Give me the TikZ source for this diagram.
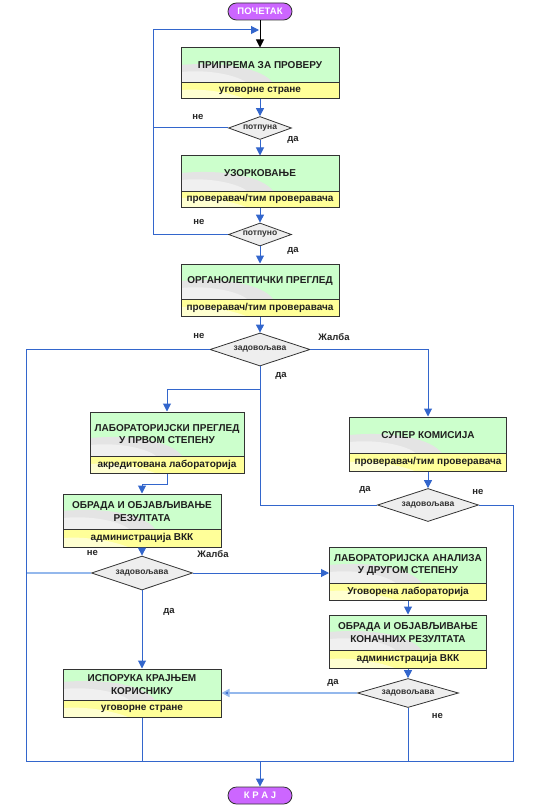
\documentclass[tikz,border=0pt]{standalone}
\usepackage{fontspec}
\setmainfont{Liberation Sans}
\usetikzlibrary{arrows.meta,shapes.geometric,calc}
\definecolor{lblue}{HTML}{3366CC}
\definecolor{paleblue}{HTML}{94B8EC}
\definecolor{boxgreen}{HTML}{CCFFCC}
\definecolor{boxyellow}{HTML}{FFFF99}
\definecolor{swgray}{HTML}{E4E4E4}
\definecolor{dgray}{HTML}{EEEEEE}
\definecolor{pill}{HTML}{CC66FF}
\definecolor{edgec}{HTML}{333333}
\tikzset{
  greenpart/.style={draw=edgec, line width=1pt, fill=boxgreen, inner sep=1pt, align=center,
    font=\fontsize{10}{12.5}\selectfont\bfseries, text=black!88,
    path picture={
      \coordinate (sw) at (path picture bounding box.south west);
      \fill[swgray] ([yshift=18pt]sw) .. controls ([xshift=45pt,yshift=22pt]sw) and ([xshift=82pt,yshift=14pt]sw) .. ([xshift=92pt]sw) -- (sw) -- cycle;
      \fill[white!45!swgray] ([yshift=11pt]sw) .. controls ([xshift=30pt,yshift=14pt]sw) and ([xshift=58pt,yshift=7pt]sw) .. ([xshift=66pt]sw) -- (sw) -- cycle;
    }},
  yellowpart/.style={draw=edgec, line width=1pt, fill=boxyellow, inner sep=1pt,
    font=\fontsize{10}{11}\selectfont\bfseries, text=black!88,
    path picture={
      \coordinate (sw) at (path picture bounding box.south west);
      \fill[white!55!boxyellow] ([yshift=9pt]sw) .. controls ([xshift=30pt,yshift=11pt]sw) and ([xshift=55pt,yshift=4pt]sw) .. ([xshift=65pt]sw) -- (sw) -- cycle;
    }},
  decision/.style={diamond, shape aspect=3, inner sep=0pt, draw=edgec, line width=0.8pt, fill=dgray,
    font=\fontsize{8.5}{10}\selectfont\bfseries, text=black!80},
  terminal/.style={draw=edgec, line width=0.8pt, fill=pill, rounded corners=8.5pt, minimum width=64pt,
    minimum height=17pt, inner sep=0pt, font=\fontsize{9.5}{11}\selectfont\bfseries, text=white},
  lab/.style={font=\fontsize{9.5}{11}\selectfont\bfseries, text=black!85, inner sep=0pt},
  arr/.style={draw=lblue, line width=1pt, -{Triangle[width=8pt,length=8pt]}},
  blk/.style={draw=black, line width=1pt, -{Triangle[width=8pt,length=8pt]}},
  ln/.style={draw=lblue, line width=0.8pt},
  paleln/.style={draw=paleblue, line width=1.6pt},
  palearr/.style={draw=paleblue, line width=1.6pt, -{Triangle[width=8pt,length=8pt,fill=lblue]}}
}
\newcommand\flowbox[8]{%
  \node[greenpart, minimum width=#6pt, minimum height={(#4-#3)*1pt}] (#1) at (#2,{(#3+#4)/2}) {#7};
  \node[yellowpart, minimum width=#6pt, minimum height={(#5-#4)*1pt}] (#1s) at (#2,{(#4+#5)/2}) {#8};
}
\begin{document}
\begin{tikzpicture}[x=1pt,y=-1pt]
\useasboundingbox[fill=white] (0,0) rectangle (541,805);

% terminals
\node[terminal] (start) at (260,11.5) {ПОЧЕТАК};
\node[terminal] (end) at (260,795.5) {К Р А Ј};

% boxes
\flowbox{b1}{260}{48}{83}{99}{158}{ПРИПРЕМА ЗА ПРОВЕРУ}{уговорне стране}
\flowbox{b2}{260}{156}{191}{207}{158}{УЗОРКОВАЊЕ}{проверавач/тим проверавача}
\flowbox{b3}{260}{264}{299}{316}{158}{ОРГАНОЛЕПТИЧКИ ПРЕГЛЕД}{проверавач/тим проверавача}
\flowbox{b4}{167}{412}{456}{473}{154}{ЛАБОРАТОРИЈСКИ ПРЕГЛЕД\\У ПРВОМ СТЕПЕНУ}{акредитована лабораторија}
\flowbox{b5}{142}{494}{529}{547}{158}{ОБРАДА И ОБЈАВЉИВАЊЕ\\РЕЗУЛТАТА}{администрација ВКК}
\flowbox{b6}{428}{417}{453}{471}{157}{СУПЕР КОМИСИЈА}{проверавач/тим проверавача}
\flowbox{b7}{408}{547}{583}{600}{157}{ЛАБОРАТОРИЈСКА АНАЛИЗА\\У ДРУГОМ СТЕПЕНУ}{Уговорена лабораторија}
\flowbox{b8}{408}{615}{650}{668}{157}{ОБРАДА И ОБЈАВЉИВАЊЕ\\КОНАЧНИХ РЕЗУЛТАТА}{администрација ВКК}
\flowbox{b9}{142}{669}{700}{717}{158}{ИСПОРУКА КРАЈЊЕМ\\КОРИСНИКУ}{уговорне стране}

% decisions
\node[decision, minimum width=63pt, minimum height=23pt] (d1) at (260,128) {потпуна};
\node[decision, minimum width=63pt, minimum height=23pt] (d2) at (260,234.5) {потпуно};
\node[decision, minimum width=100pt, minimum height=33pt] (d3) at (260,349.5) {задовољава};
\node[decision, minimum width=101pt, minimum height=33pt] (d4) at (428,505) {задовољава};
\node[decision, minimum width=101pt, minimum height=34pt] (d5) at (142,573) {задовољава};
\node[decision, minimum width=101pt, minimum height=29pt] (d6) at (408,693) {задовољава};

% helper coordinates
\coordinate (lx) at (153,30);
\coordinate (loopin) at (259,30);
\coordinate (botL) at (26.5,761.5);
\coordinate (botR) at (513,761.5);
\coordinate (j1) at (260,389);
\coordinate (j2) at (260,761.5);

% connectors
\draw[blk] (start) -- (b1);
\draw[arr] (b1s) -- (d1);
\draw[arr] (d1) -- (b2);
\draw[arr] (b2s) -- (d2);
\draw[arr] (d2) -- (b3);
\draw[arr] (b3s) -- (d3);
\draw[arr] (d1.west) -| (lx) -- (loopin);
\draw[ln] (d2.west) -| (lx);
\draw[ln] (d3.west) -| (botL);
\draw[arr] (d3.east) -| (b6.north);
\draw[ln] (d3.south) |- (d4.west);
\draw[arr] (j1) -| (b4.north);
\draw[arr] (b4s.south) -- ++(0,10.5) -| (b5.north);
\draw[arr] (b6s) -- (d4);
\draw[ln] (d4.east) -| (botR);
\draw[arr] (b5s) -- (d5);
\draw[paleln] (d5.west) -- (d5.west -| botL);
\draw[arr] (d5.east) -- (d5.east -| b7.west);
\draw[arr] (d5.south) -- (b9.north);
\draw[arr] (b7s) -- (b8);
\draw[arr] (b8s) -- (d6);
\draw[palearr] (d6.west) -- (d6.west -| b9.east);
\draw[ln] (b9s.south) -- (b9s.south |- botL);
\draw[ln] (d6.south) -- (d6.south |- botL);
\draw[ln] (botL) -- (botR);
\draw[arr] (j2) -- (end);

% labels
\node[lab] (l1n) at (198,117) {не};
\node[lab] (l1y) at (293,140) {да};
\node[lab] (l2n) at (199,222) {не};
\node[lab] (l2y) at (293,251) {да};
\node[lab] (l3n) at (199,336) {не};
\node[lab] (l3z) at (334,337) {Жалба};
\node[lab] (l3y) at (281,376) {да};
\node[lab] (l4y) at (365,490) {да};
\node[lab] (l4n) at (478,492) {не};
\node[lab] (l5n) at (92.5,553) {не};
\node[lab] (l5z) at (213,554.5) {Жалба};
\node[lab] (l5y) at (169,612) {да};
\node[lab] (l6y) at (333,683) {да};
\node[lab] (l6n) at (437.5,715.5) {не};
\end{tikzpicture}
\end{document}
